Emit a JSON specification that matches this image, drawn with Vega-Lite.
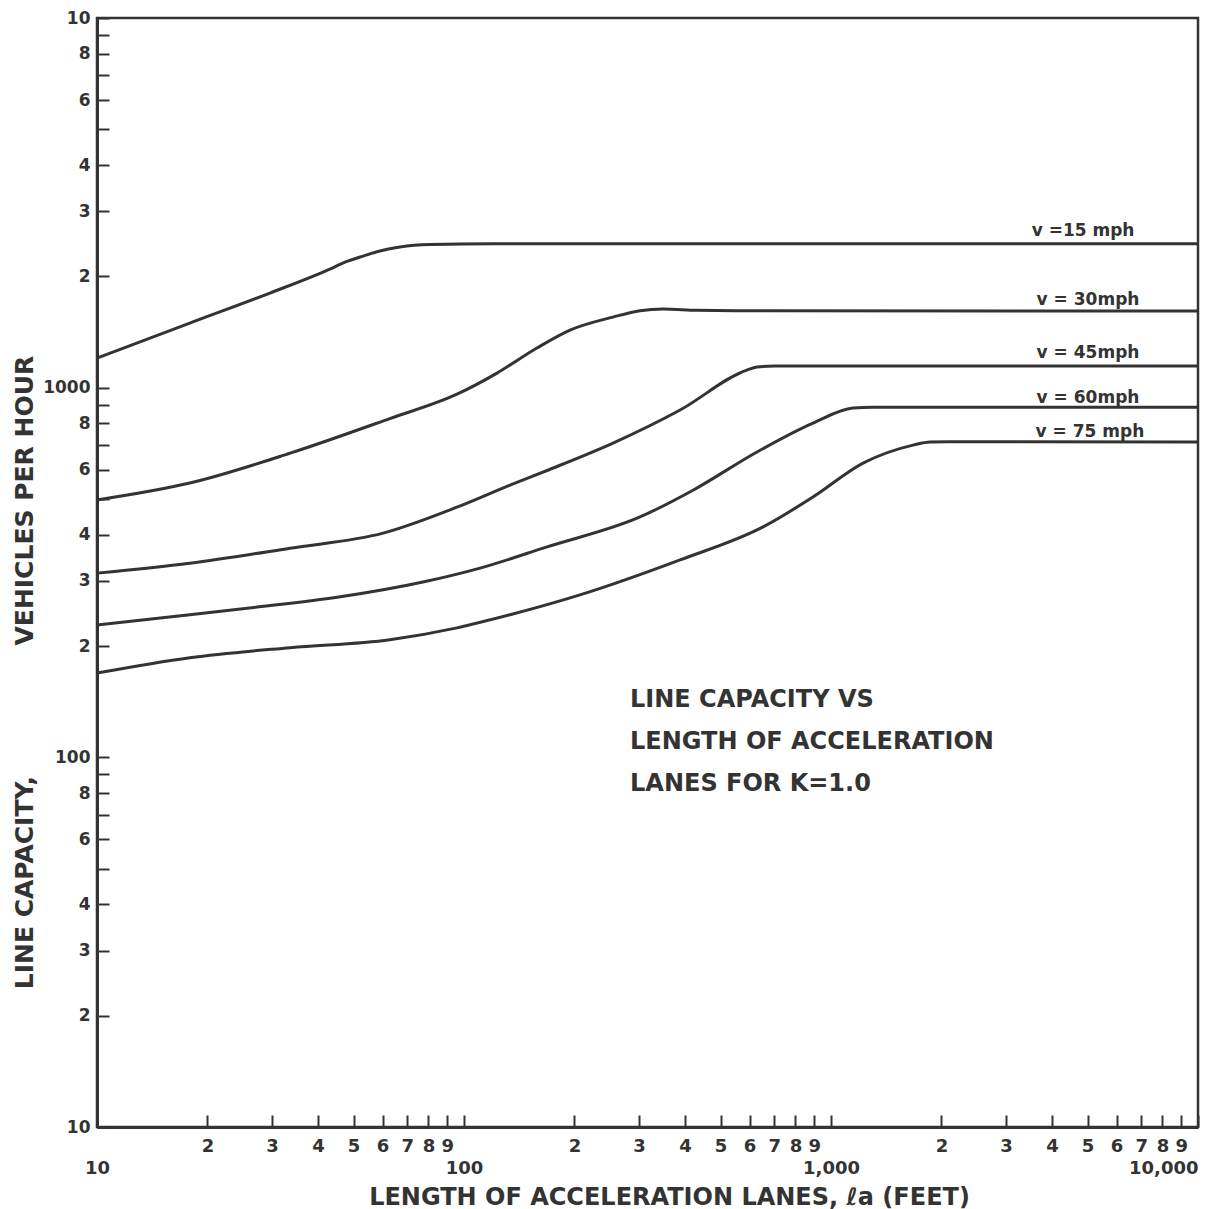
{
  "$schema": "https://vega.github.io/schema/vega-lite/v6.json",
  "width": 1101,
  "height": 1109,
  "autosize": {"type": "none"},
  "padding": {"left": 97, "top": 18, "right": 9, "bottom": 82},
  "background": "white",
  "config": {
    "font": "DejaVu Sans",
    "view": {"stroke": "#333", "strokeWidth": 2.5},
    "axis": {"grid": false, "domainColor": "#333", "domainWidth": 3, "tickColor": "#333", "tickWidth": 2, "labelColor": "#333", "titleColor": "#333", "labelFont": "DejaVu Sans", "titleFont": "DejaVu Sans", "titleFontWeight": "bold", "labelFontWeight": "bold"}
  },
  "datasets": {
    "curves": [
      {"speed": "15", "length": 10, "capacity": 1202},
      {"speed": "15", "length": 17.9, "capacity": 1495},
      {"speed": "15", "length": 29.6, "capacity": 1803},
      {"speed": "15", "length": 43.1, "capacity": 2093},
      {"speed": "15", "length": 47.4, "capacity": 2186},
      {"speed": "15", "length": 53.1, "capacity": 2270},
      {"speed": "15", "length": 59, "capacity": 2342},
      {"speed": "15", "length": 66.9, "capacity": 2401},
      {"speed": "15", "length": 80.8, "capacity": 2438},
      {"speed": "15", "length": 120, "capacity": 2450},
      {"speed": "15", "length": 1000, "capacity": 2450},
      {"speed": "15", "length": 10000, "capacity": 2450},
      {"speed": "30", "length": 10, "capacity": 497},
      {"speed": "30", "length": 17.9, "capacity": 552},
      {"speed": "30", "length": 33.6, "capacity": 665},
      {"speed": "30", "length": 62.8, "capacity": 825},
      {"speed": "30", "length": 95.7, "capacity": 960},
      {"speed": "30", "length": 123, "capacity": 1095},
      {"speed": "30", "length": 158, "capacity": 1280},
      {"speed": "30", "length": 194.5, "capacity": 1431},
      {"speed": "30", "length": 254.7, "capacity": 1552},
      {"speed": "30", "length": 301.7, "capacity": 1615},
      {"speed": "30", "length": 348.5, "capacity": 1632},
      {"speed": "30", "length": 431, "capacity": 1620},
      {"speed": "30", "length": 600, "capacity": 1615},
      {"speed": "30", "length": 10000, "capacity": 1612},
      {"speed": "45", "length": 10, "capacity": 315},
      {"speed": "45", "length": 17.9, "capacity": 335},
      {"speed": "45", "length": 33.6, "capacity": 368},
      {"speed": "45", "length": 60.2, "capacity": 404},
      {"speed": "45", "length": 95.7, "capacity": 475},
      {"speed": "45", "length": 133.5, "capacity": 545},
      {"speed": "45", "length": 168.4, "capacity": 597},
      {"speed": "45", "length": 254.7, "capacity": 708},
      {"speed": "45", "length": 388, "capacity": 870},
      {"speed": "45", "length": 590, "capacity": 1116},
      {"speed": "45", "length": 628.6, "capacity": 1137},
      {"speed": "45", "length": 700, "capacity": 1144},
      {"speed": "45", "length": 10000, "capacity": 1144},
      {"speed": "60", "length": 10, "capacity": 228},
      {"speed": "60", "length": 17.9, "capacity": 243},
      {"speed": "60", "length": 27.3, "capacity": 255},
      {"speed": "60", "length": 45.1, "capacity": 271},
      {"speed": "60", "length": 77.3, "capacity": 298},
      {"speed": "60", "length": 110.6, "capacity": 325},
      {"speed": "60", "length": 168.4, "capacity": 371},
      {"speed": "60", "length": 301.7, "capacity": 447},
      {"speed": "60", "length": 420.7, "capacity": 528},
      {"speed": "60", "length": 628.6, "capacity": 670},
      {"speed": "60", "length": 893, "capacity": 802},
      {"speed": "60", "length": 1148, "capacity": 881},
      {"speed": "60", "length": 1300, "capacity": 885},
      {"speed": "60", "length": 10000, "capacity": 885},
      {"speed": "75", "length": 10, "capacity": 169},
      {"speed": "75", "length": 17.9, "capacity": 186},
      {"speed": "75", "length": 33.6, "capacity": 198},
      {"speed": "75", "length": 62.8, "capacity": 208},
      {"speed": "75", "length": 95.7, "capacity": 224},
      {"speed": "75", "length": 133.5, "capacity": 243},
      {"speed": "75", "length": 207, "capacity": 275},
      {"speed": "75", "length": 388, "capacity": 342},
      {"speed": "75", "length": 653, "capacity": 420},
      {"speed": "75", "length": 893, "capacity": 506},
      {"speed": "75", "length": 1223, "capacity": 625},
      {"speed": "75", "length": 1673, "capacity": 699},
      {"speed": "75", "length": 1861, "capacity": 713},
      {"speed": "75", "length": 2100, "capacity": 714},
      {"speed": "75", "length": 10000, "capacity": 713}
    ],
    "curveLabels": [
      {"label": "v =15 mph", "length": 4862, "capacity": 2570},
      {"label": "v = 30mph", "length": 5015, "capacity": 1673},
      {"label": "v = 45mph", "length": 5015, "capacity": 1202},
      {"label": "v = 60mph", "length": 5015, "capacity": 909},
      {"label": "v = 75 mph", "length": 5077, "capacity": 735}
    ],
    "note": [
      {"label": "LINE CAPACITY VS", "length": 283.4, "capacity": 136.8},
      {"label": "LENGTH OF ACCELERATION", "length": 283.4, "capacity": 105.3},
      {"label": "LANES FOR K=1.0", "length": 283.4, "capacity": 81.1}
    ]
  },
  "encoding": {
    "x": {
      "field": "length", "type": "quantitative",
      "scale": {"type": "log", "domain": [10, 10000], "nice": false},
      "axis": {
        "title": "LENGTH OF ACCELERATION LANES, ℓa (FEET)",
        "titleFontSize": 24, "titleX": 572, "titleY": 77, "titleAlign": "center", "titleBaseline": "alphabetic",
        "values": [10,20,30,40,50,60,70,80,90,100,200,300,400,500,600,700,800,900,1000,2000,3000,4000,5000,6000,7000,8000,9000,10000],
        "tickSize": -12,
        "labelPadding": 22,
        "labelBaseline": "top",
        "labelLineHeight": 22,
        "labelFontSize": 18,
        "labelFlush": false,
        "labelOverlap": false,
        "labelBound": false,
        "labelAlign": {"condition": {"test": "datum.value == 10000", "value": "right"}, "value": "center"},
        "labelExpr": "datum.value == 10 ? ['', '10'] : datum.value == 100 ? ['', '100'] : datum.value == 1000 ? ['', '1,000'] : datum.value == 10000 ? ['', '10,000'] : substring(toString(datum.value), 0, 1)"
      }
    },
    "y": {
      "field": "capacity", "type": "quantitative",
      "scale": {"type": "log", "domain": [10, 10000], "nice": false},
      "axis": {
        "title": "LINE CAPACITY,\u00a0\u00a0\u00a0\u00a0\u00a0\u00a0\u00a0\u00a0\u00a0\u00a0\u00a0\u00a0\u00a0\u00a0\u00a0VEHICLES PER HOUR",
        "titleFontSize": 25, "titleX": -65, "titleY": 654, "titleAlign": "center", "titleBaseline": "alphabetic", "titleAngle": -90,
        "values": [10,20,30,40,50,60,70,80,90,100,200,300,400,500,600,700,800,900,1000,2000,3000,4000,5000,6000,7000,8000,9000,10000],
        "tickSize": -12,
        "labelPadding": 19,
        "labelFontSize": 17,
        "labelFlush": false,
        "labelOverlap": false,
        "labelBound": false,
        "labelExpr": "datum.value == 10000 ? '10' : (datum.value == 10 || datum.value == 100 || datum.value == 1000) ? toString(datum.value) : (indexof(['2','3','4','6','8'], substring(toString(datum.value), 0, 1)) >= 0 ? substring(toString(datum.value), 0, 1) : '')"
      }
    }
  },
  "layer": [
    {
      "data": {"name": "curves"},
      "mark": {"type": "line", "color": "#333", "strokeWidth": 3, "interpolate": "monotone"},
      "encoding": {"detail": {"field": "speed", "type": "nominal"}}
    },
    {
      "data": {"name": "curveLabels"},
      "mark": {"type": "text", "color": "#333", "fontSize": 17, "fontWeight": "bold", "align": "center", "baseline": "alphabetic"},
      "encoding": {"text": {"field": "label", "type": "nominal"}}
    },
    {
      "data": {"name": "note"},
      "mark": {"type": "text", "color": "#333", "fontSize": 24, "fontWeight": "bold", "align": "left", "baseline": "alphabetic"},
      "encoding": {"text": {"field": "label", "type": "nominal"}}
    }
  ]
}
